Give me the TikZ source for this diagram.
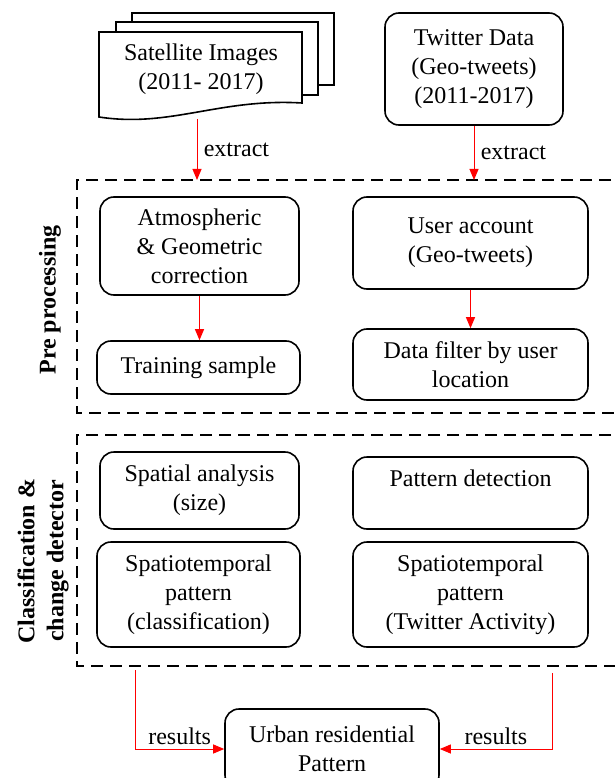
\documentclass[tikz,border=0pt]{standalone}
\usepackage{fontspec}
\setmainfont{Liberation Serif}
\usetikzlibrary{arrows.meta}
\begin{document}
\begin{tikzpicture}[x=1pt,y=-1pt,
  font=\fontsize{24}{29}\selectfont,
  box/.style={draw,line width=1.6pt,rounded corners=14pt,align=center,inner sep=0pt},
  sheet/.style={line width=1.6pt,fill=white},
  flow/.style={red,line width=1pt,-{Triangle[length=11pt,width=9pt]}},
  tag/.style={text=black},
  frame/.style={line width=1.6pt,dash pattern=on 12pt off 7pt},
  side/.style={font=\fontsize{24}{29}\selectfont\bfseries,rotate=90,align=center}]
\useasboundingbox (0,0) rectangle (614,778);

% satellite images: stack of sheets
\draw[sheet] (132,13) rectangle (334,85);
\draw[sheet] (116,22) rectangle (318,95);
\draw[sheet] (99,32) -- (302,32) -- (302,103) .. controls (220,98) and (170,128) .. (99,117) -- cycle;
\node[align=center] (sat) at (201,69) {Satellite Images\\(2011- 2017)};
\coordinate (satb) at (197,119);

\node[box,minimum width=178pt,minimum height=112pt] (tw) at (474,69) {Twitter Data\\(Geo-tweets)\\(2011-2017)};

% pre processing
\draw[frame] (630,180) -- (77,180) -- (77,413) -- (630,413);
\node[side] (pre) at (50,300) {Pre processing};
\coordinate (pretop) at (197,180);

\node[box,minimum width=199pt,minimum height=98pt] (atmo) at (199.5,246) {Atmospheric\\\& Geometric\\correction};
\node[box,minimum width=203pt,minimum height=53pt] (train) at (198.5,367.5) {Training sample};
\node[box,minimum width=235pt,minimum height=92pt] (user) at (470.5,243) {User account\\(Geo-tweets)};
\node[box,minimum width=235pt,minimum height=71pt] (filter) at (470.5,364.5) {Data filter by user\\location};

\draw[flow] (satb) -- (pretop) node[tag,midway,right=3pt] {extract};
\draw[flow] (tw.south) -- (tw.south |- pretop) node[tag,midway,right=3pt] {extract};
\draw[flow] (atmo.south) -- (atmo.south |- train.north);
\draw[flow] (user.south) -- (user.south |- filter.north);

% classification
\draw[frame] (630,435) -- (77,435) -- (77,666) -- (630,666);
\node[side] (cls) at (43,561) {Classification \&\\change detector};

\node[box,minimum width=199pt,minimum height=77pt] (spat) at (199.5,490.5) {Spatial analysis\\(size)};
\node[box,minimum width=203pt,minimum height=105pt] (stl) at (198.5,594.5) {Spatiotemporal\\pattern\\(classification)};
\node[box,minimum width=235pt,minimum height=72pt] (patt) at (470.5,493) {Pattern detection\\\mbox{}};
\node[box,minimum width=235pt,minimum height=105pt] (str) at (470.5,594.5) {Spatiotemporal\\pattern\\(Twitter Activity)};

% result
\node[box,minimum width=214pt,minimum height=80pt] (urban) at (332,749) {Urban residential\\Pattern};
\coordinate (resl) at (135,670);
\coordinate (resr) at (552,673);
\draw[flow] (resl) |- (urban.west) node[tag,pos=0.75,above] {results};
\draw[flow] (resr) |- (urban.east) node[tag,pos=0.75,above] {results};
\end{tikzpicture}
\end{document}
